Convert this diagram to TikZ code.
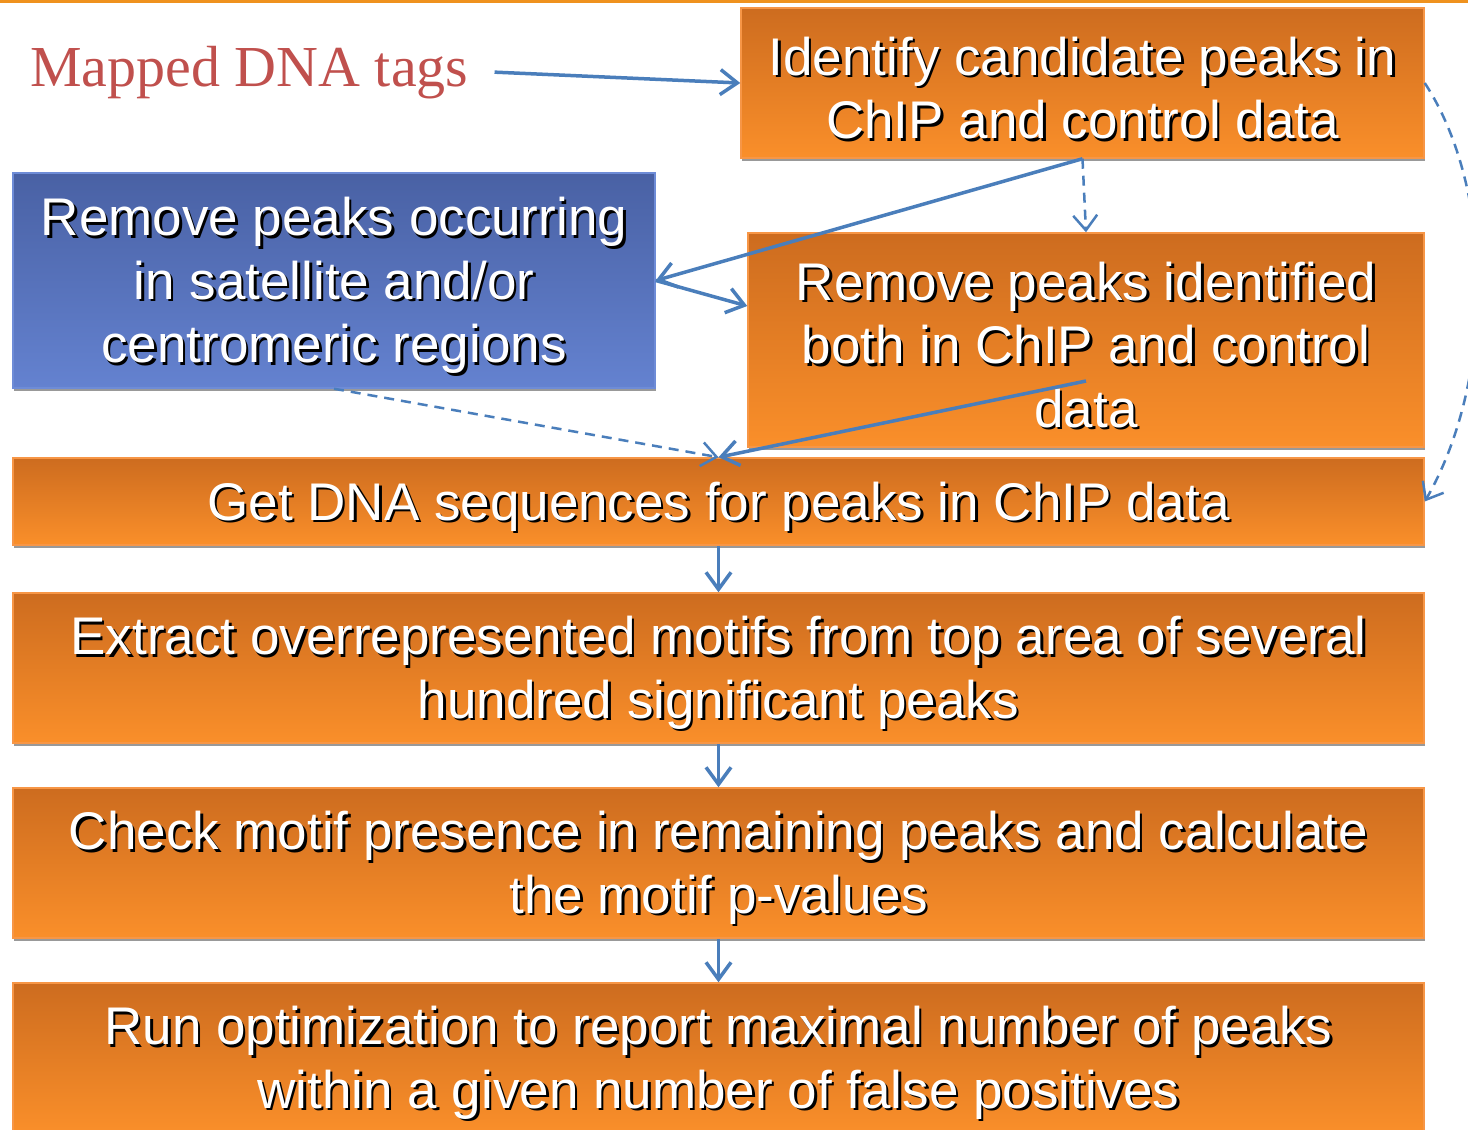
\documentclass[tikz,border=0pt]{standalone}
\usepackage{fontspec}
\setmainfont{Liberation Sans}
\newfontfamily\tagfont{Liberation Serif}
\usetikzlibrary{arrows.meta,shadows}

\definecolor{orTop}{RGB}{205,108,31}
\definecolor{orBot}{RGB}{250,143,42}
\definecolor{orEdge}{RGB}{247,150,70}
\definecolor{blTop}{RGB}{73,97,164}
\definecolor{blBot}{RGB}{100,130,208}
\definecolor{blEdge}{RGB}{110,140,215}
\definecolor{flow}{RGB}{74,126,187}
\definecolor{tagred}{RGB}{192,80,77}
\definecolor{rule}{RGB}{239,146,30}

\tikzset{
  panel/.style={rectangle, inner sep=0pt, line width=1.5pt,
    drop shadow={shadow xshift=0.5pt, shadow yshift=-3pt, fill=black!40, opacity=1}},
  orangebox/.style={panel, draw=orEdge, top color=orTop, bottom color=orBot},
  bluebox/.style={panel, draw=blEdge, top color=blTop, bottom color=blBot},
  label/.style={inner sep=0pt, align=center, font=\fontsize{53}{63.5}\selectfont},
  labelshade/.style={label, text=black},
  labelface/.style={label, text=white},
  link/.style={draw=flow, line width=3.5pt, -{Straight Barb[length=17pt,width=25pt,line width=3.5pt]}},
  dlink/.style={draw=flow, line width=2.5pt, dash pattern=on 10pt off 7pt,
    -{Straight Barb[length=15pt,width=24pt,line width=2.5pt]}},
}

% white lettering with a dark offset shadow, centred on a panel
\newcommand\panellabel[2]{%
  \node[labelshade] at ([xshift=2.5pt,yshift=-7.5pt]#1.center) {#2};
  \node[labelface] at ([yshift=-5pt]#1.center) {#2};
}

\begin{document}
\begin{tikzpicture}[x=1pt,y=-1pt]
\useasboundingbox (0,0) rectangle (1468,1130);
\clip (0,0) rectangle (1468,1130);

% orange rule along the top edge
\fill[rule] (0,0) rectangle (1468,3);

% panels
\node[orangebox, minimum width=683pt, minimum height=150pt] (idp) at (1082.5,83) {};
\node[bluebox,   minimum width=642pt, minimum height=215pt] (sat) at (334,280.5) {};
\node[orangebox, minimum width=676pt, minimum height=214pt] (rmc) at (1086,340) {};
\node[orangebox, minimum width=1411pt, minimum height=87pt] (seq) at (718.5,501.5) {};
\node[orangebox, minimum width=1411pt, minimum height=150pt] (mot) at (718.5,668) {};
\node[orangebox, minimum width=1411pt, minimum height=150pt] (chk) at (718.5,863) {};
\node[orangebox, minimum width=1411pt, minimum height=150pt] (opt) at (718.5,1058) {};

\panellabel{idp}{Identify candidate peaks in\\ChIP and control data}
\panellabel{sat}{Remove peaks occurring\\in satellite and/or\\centromeric regions}
\panellabel{rmc}{Remove peaks identified\\both in ChIP and control\\data}
\panellabel{seq}{Get DNA sequences for peaks in ChIP data}
\panellabel{mot}{Extract overrepresented motifs from top area of several\\hundred significant peaks}
\panellabel{chk}{Check motif presence in remaining peaks and calculate\\the motif p-values}
\panellabel{opt}{Run optimization to report maximal number of peaks\\within a given number of false positives}

% input label
\node[anchor=base west, inner sep=0pt, text=tagred,
      font=\tagfont\fontsize{58}{64}\selectfont] (tags) at (30,86) {Mapped DNA tags};

% connectors
\coordinate (tagsout) at ([xshift=26pt]tags.east);
\draw[link] (tagsout) -- (idp.west);
\draw[dlink] (idp.south) -- (rmc.north);
\draw[link] (idp.south) -- (sat.east);
\draw[link] (sat.east) -- ([yshift=34pt]rmc.west);
\draw[dlink] (sat.south) -- (seq.north);
\draw[link] ([yshift=-41pt]rmc.center) -- (seq.north);
\draw[dlink] (idp.east) .. controls (1495,190) and (1495,380) .. (seq.east);
\draw[link] (seq.south) -- (mot.north);
\draw[link] (mot.south) -- (chk.north);
\draw[link] (chk.south) -- (opt.north);
\end{tikzpicture}
\end{document}
